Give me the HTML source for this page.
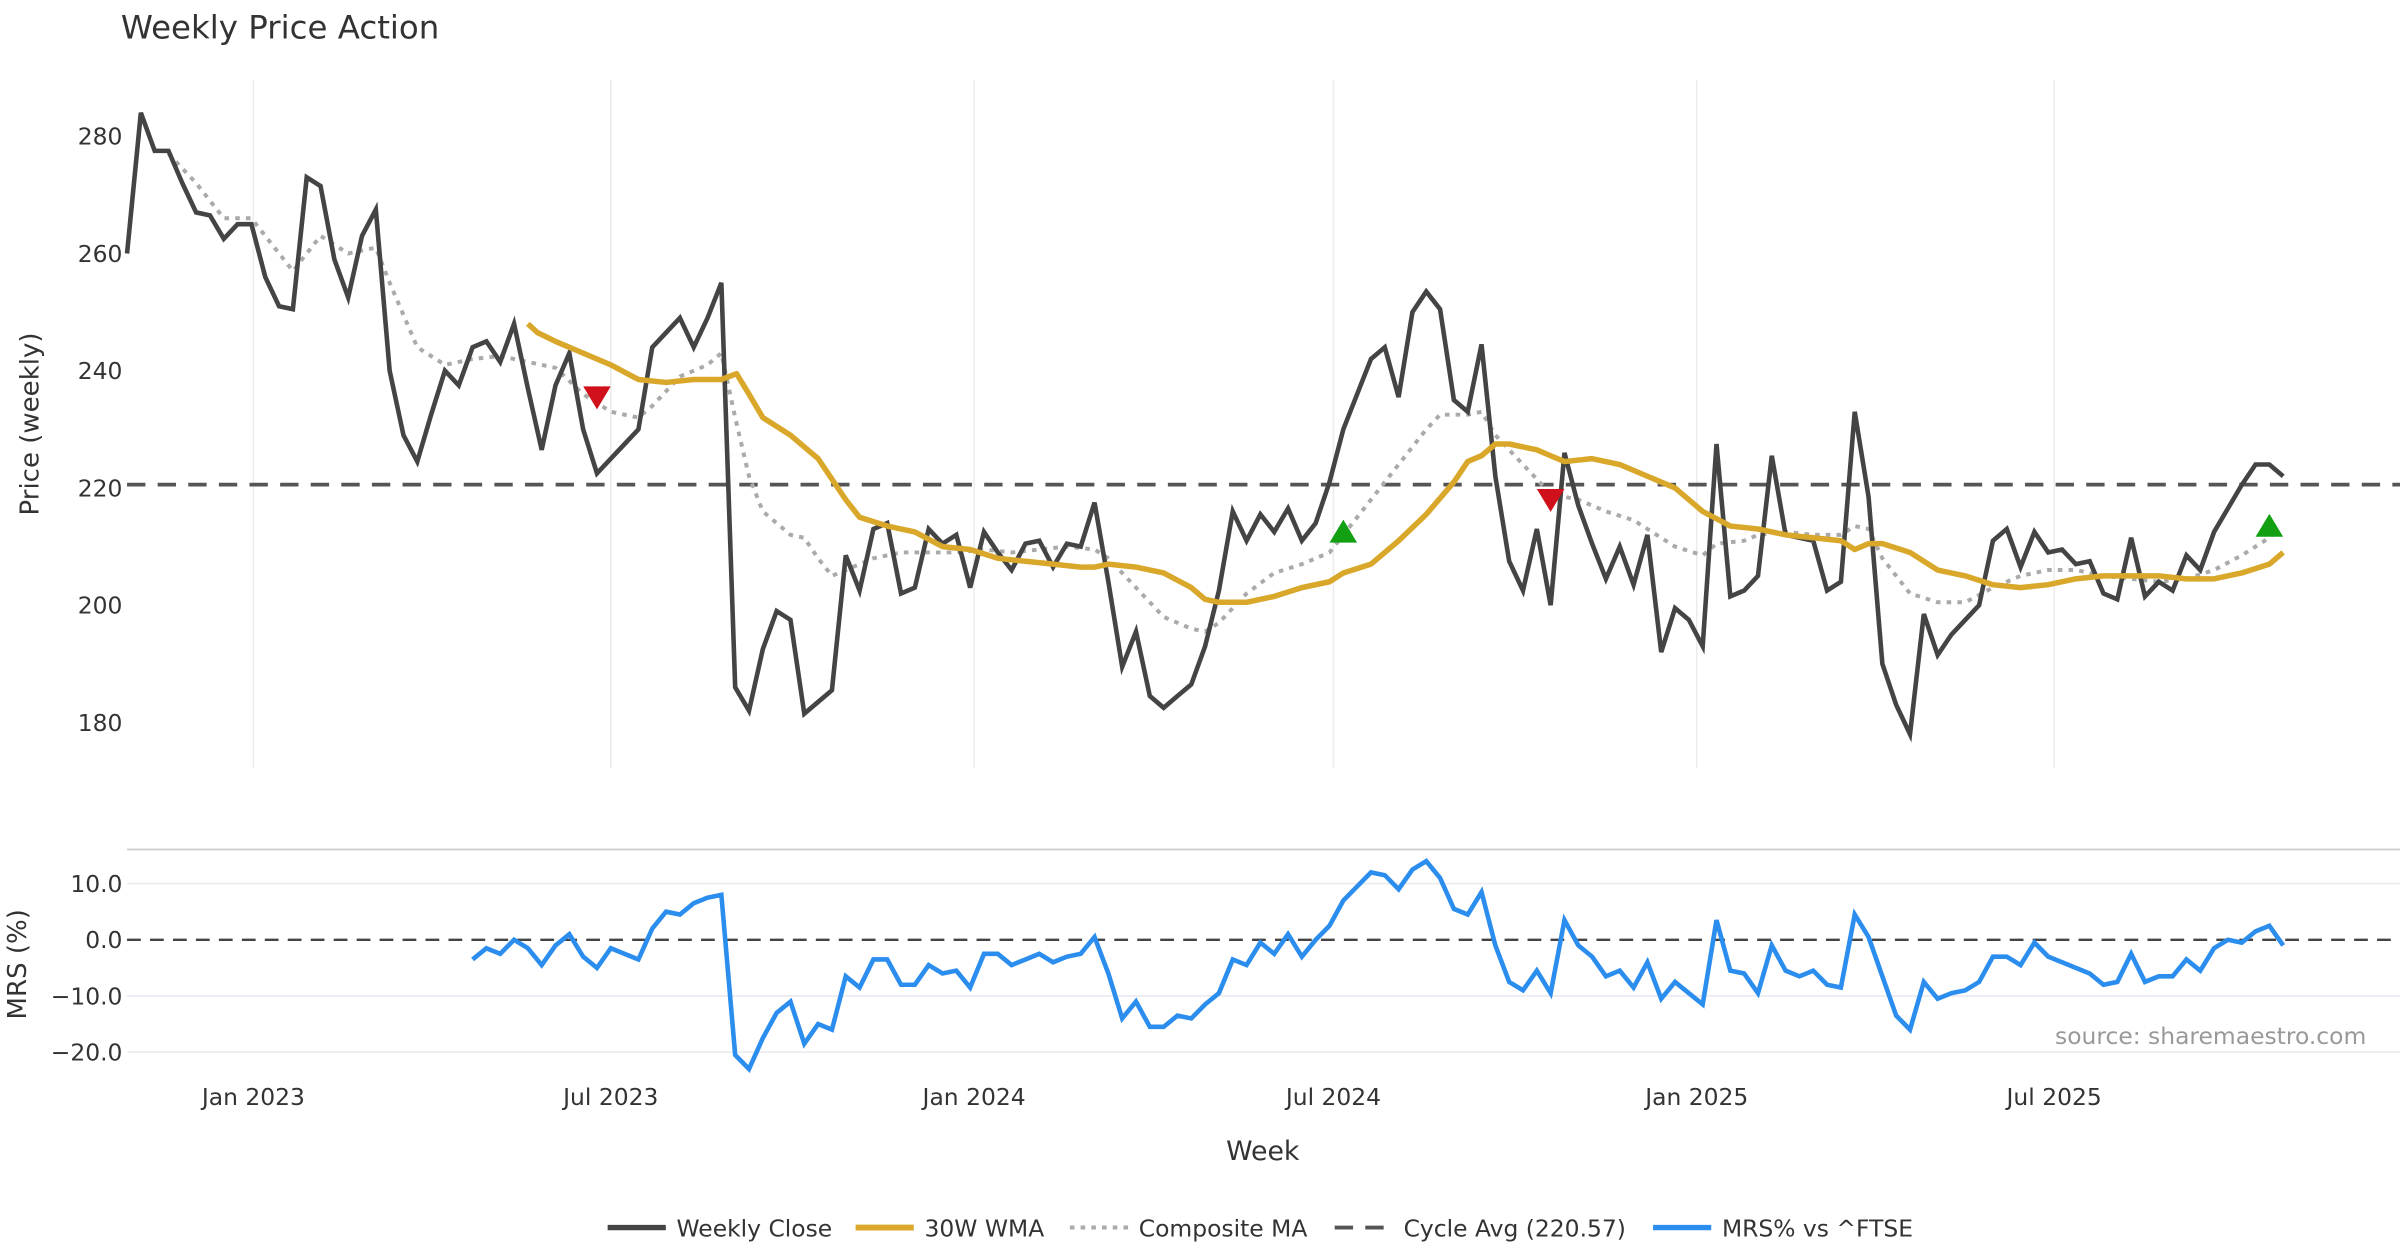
<!DOCTYPE html>
<html><head><meta charset="utf-8"><style>
html,body{margin:0;padding:0;background:#fff;}
svg{display:block;font-family:"DejaVu Sans","Liberation Sans",sans-serif;}
</style></head><body>
<svg id="chart" width="2400" height="1260" viewBox="0 0 1568 823.2" xmlns="http://www.w3.org/2000/svg">
<text x="79" y="25" font-size="21.2" fill="#333">Weekly Price Action</text>
<g id="grid"></g>
<g id="series"></g>
<g id="axes"></g>
<text x="0" y="0" transform="translate(25,277) rotate(-90)" font-size="17" fill="#333" text-anchor="middle">Price (weekly)</text>
<text x="0" y="0" transform="translate(17,630) rotate(-90)" font-size="17" fill="#333" text-anchor="middle">MRS (%)</text>
<text x="825" y="758" font-size="17.5" fill="#333" text-anchor="middle">Week</text>
<text x="1546" y="682" font-size="15.3" fill="#999" text-anchor="end">source: sharemaestro.com</text>
<g id="legend"></g>
</svg>
<script>
// ---- data ----
const closeValues = [260,284,277.5,277.5,272,267,266.5,262.5,265,265,256,251,250.5,273,271.5,259,252.5,263,267.5,240,229,224.5,232.5,240,237.5,244,245,241.5,248,237,226.5,237.5,243,230,222.5,225,227.5,230,244,246.5,249,244,249,255,186,182,192.5,199,197.5,181.5,183.5,185.5,208.5,202.5,213,214,202,203,213,210.5,212,203,212.5,209,206,210.5,211,206.5,210.5,210,217.5,204,189.5,195.5,184.5,182.5,184.5,186.5,193,202.5,216,211,215.5,212.5,216.5,211,214,221,230,236,242,244,235.5,250,253.5,250.5,235,233,244.5,222,207.5,202.5,213,200,226,217,210.5,204.5,210,203.5,212,192,199.5,197.5,193,227.5,201.5,202.5,205,225.5,212,211.5,211,202.5,204,233,218.5,190,183,178,198.5,191.5,195,197.5,200,211,213,206.5,212.5,209,209.5,207,207.5,202,201,211.5,201.5,204,202.5,208.5,206,212.5,216.5,220.5,224,224,222];
const wmaWeeks = [29,29.7,31,33,35,37,39,41,43,44.1,45,46,48,50,52,53,55,57,59,61,63,65,67,69,70,71,73,75,77,78,79,81,83,85,87,88,90,92,94,96,97,98,99,100,102,103,104,106,108,110,112,114,116,118,120,122,124,125,126,127,129,131,133,135,137,139,141,143,145,147,149,151,153,155,156];
const wmaValues = [248,246.5,245,243,241,238.5,238,238.5,238.5,239.5,236,232,229,225,218,215,213.5,212.5,210,209.5,208,207.5,207,206.5,206.5,207,206.5,205.5,203,201,200.5,200.5,201.5,203,204,205.5,207,211,215.5,221,224.5,225.5,227.5,227.5,226.5,225.5,224.5,225,224,222,220,216,213.5,213,212,211.5,211,209.5,210.5,210.5,209,206,205,203.5,203,203.5,204.5,205,205,205,204.5,204.5,205.5,207,209,210.5];
const compWeeks = [3,5,7,9,10,12,14,16,18,19,21,23,25,27,29,31,33,35,37,38,40,42,43,44,45,46,48,49,50,51,52,54,56,58,60,62,64,66,68,70,71,73,75,77,78,79,81,83,85,87,88,90,92,94,95,97,98,99,101,103,105,107,109,110,112,114,115,117,118,120,122,124,125,126,127,129,131,133,135,137,139,141,143,145,147,149,151,153,155,155.5];
const compValues = [277,272,266,266,263,257,263,260,261,255,244,241,242,242.5,241.5,240.5,236,233,232,234,239,241,243,232,222,216,212,211.5,208,205,206,208,209,209,209,209.5,209,209.5,210,209.5,208,203,198,196,195.5,197,202,205.5,207,209,212,218,224,230,232.5,232.5,233,229,224,219,218,216,214.5,213,210,208.5,210.5,211,212,212.5,212,212,213.5,213,208,202,200.5,200.5,203,205,206,206,205,204.5,204,204.5,206,208.5,211.5,213];
const cycleAvg = 220.57;
const mrsStart = 25;
const mrsValues = [-3.5,-1.5,-2.5,0,-1.5,-4.5,-1,1,-3,-5,-1.5,-2.5,-3.5,2,5,4.5,6.5,7.5,8,-20.5,-23,-17.5,-13,-11,-18.5,-15,-16,-6.5,-8.5,-3.5,-3.5,-8,-8,-4.5,-6,-5.5,-8.5,-2.5,-2.5,-4.5,-3.5,-2.5,-4,-3,-2.5,0.5,-6,-14,-11,-15.5,-15.5,-13.5,-14,-11.5,-9.5,-3.5,-4.5,-0.5,-2.5,1,-3,0,2.5,7,9.5,12,11.5,9,12.5,14,11,5.5,4.5,8.5,-1,-7.5,-9,-5.5,-9.5,3.5,-1,-3,-6.5,-5.5,-8.5,-4,-10.5,-7.5,-9.5,-11.5,3.5,-5.5,-6,-9.5,-1,-5.5,-6.5,-5.5,-8,-8.5,4.5,0.5,-6.5,-13.5,-16,-7.5,-10.5,-9.5,-9,-7.5,-3,-3,-4.5,-0.5,-3,-4,-5,-6,-8,-7.5,-2.5,-7.5,-6.5,-6.5,-3.5,-5.5,-1.5,0,-0.5,1.5,2.5,-1];
const sellWeeks = [34,103];
const sellValues = [235.5,218];
const buyWeeks = [88,155];
const buyValues = [212.5,213.5];
const priceTicks = [180,200,220,240,260,280];
const mrsTicks = [-20,-10,0,10];
const mrsTickLabels = ["\u221220.0","\u221210.0","0.0","10.0"];
const dateTicks = ["2023-01-01","2023-07-01","2024-01-01","2024-07-01","2025-01-01","2025-07-01"];
const dateTickLabels = ["Jan 2023","Jul 2023","Jan 2024","Jul 2024","Jan 2025","Jul 2025"];
const startDate = "2022-10-29";

// ---- axes ----
const NS="http://www.w3.org/2000/svg";
const X0=83, STEP=9.03, XR=1568;
const xw = w => X0 + w*STEP;
const xd = d => X0 + (new Date(d) - new Date(startDate))/86400000/7*STEP;
const yp = v => 89 + (280 - v)*(383/100);
const ym = v => 614 - v*3.67;
function mk(tag, attrs, parent){const e=document.createElementNS(NS,tag);for(const k in attrs)e.setAttribute(k,attrs[k]);parent.appendChild(e);return e;}
const grid=document.getElementById('grid'), series=document.getElementById('series'), axes=document.getElementById('axes'), legend=document.getElementById('legend');

dateTicks.forEach((d,i)=>{
  const x=xd(d);
  const g=mk('line',{x1:x,x2:x,y1:52,y2:502,stroke:'#ececec','stroke-width':1},grid);
  
  
  const t=mk('text',{x:x,y:722,'font-size':15.3,fill:'#333','text-anchor':'middle'},axes);
  t.textContent=dateTickLabels[i];
  
  
});
priceTicks.forEach(v=>{
  const t=mk('text',{x:80,y:yp(v)+5.5,'font-size':15.3,fill:'#333','text-anchor':'end'},axes);
  t.textContent=v;
  
  
});
const sep=mk('line',{x1:X0,x2:XR,y1:555,y2:555,stroke:'#ccc','stroke-width':1.2},grid);


mrsTicks.forEach((v,i)=>{
  if(v!==0){
    const g=mk('line',{x1:X0,x2:XR,y1:ym(v),y2:ym(v),stroke:'#ececf2','stroke-width':1.2},grid);
    
    
  }
  const t=mk('text',{x:80,y:ym(v)+5.5,'font-size':15.3,fill:'#333','text-anchor':'end'},axes);
  t.textContent=mrsTickLabels[i];
  
  
});

// ---- series ----
function path(ws,vs,yf){return ws.map((w,i)=>(i?'L':'M')+xw(w).toFixed(2)+','+yf(vs[i]).toFixed(2)).join(' ');}
const cyc=mk('line',{x1:X0,x2:XR,y1:yp(cycleAvg),y2:yp(cycleAvg),stroke:'#555','stroke-width':2.5,'stroke-dasharray':'12,8'},series);


const zl=mk('line',{x1:X0,x2:XR,y1:ym(0),y2:ym(0),stroke:'#444','stroke-width':1.6,'stroke-dasharray':'9,6'},series);


const comp=mk('path',{d:path(compWeeks,compValues,yp),fill:'none',stroke:'#aaa','stroke-width':2.6,'stroke-dasharray':'3,4'},series);


const cw=closeValues.map((v,i)=>i);
const cl=mk('path',{d:path(cw,closeValues,yp),fill:'none',stroke:'#444','stroke-width':3,'stroke-linejoin':'miter'},series);


const wma=mk('path',{d:path(wmaWeeks,wmaValues,yp),fill:'none',stroke:'#d9a82a','stroke-width':3.6,'stroke-linejoin':'round'},series);


const mw=mrsValues.map((v,i)=>mrsStart+i);
const mrs=mk('path',{d:path(mw,mrsValues,ym),fill:'none',stroke:'#2b8ded','stroke-width':3},series);


sellWeeks.forEach((w,i)=>{
  const x=xw(w), y=yp(sellValues[i]);
  const p=mk('polygon',{points:`${x-9},${y-7} ${x+9},${y-7} ${x},${y+8}`,fill:'#d0101a'},series);
  
  
});
buyWeeks.forEach((w,i)=>{
  const x=xw(w), y=yp(buyValues[i]);
  const p=mk('polygon',{points:`${x-9},${y+7} ${x+9},${y+7} ${x},${y-8}`,fill:'#12a012'},series);
  
  
});

// ---- legend ----
const items=[
 {x:397,label:'Weekly Close',stroke:'#444',dash:'',w:3.5,name:'legend-weekly-close'},
 {x:559,label:'30W WMA',stroke:'#d9a82a',dash:'',w:3.8,name:'legend-wma'},
 {x:699,label:'Composite MA',stroke:'#aaa',dash:'3,4',w:2.6,name:'legend-composite-ma'},
 {x:872,label:'Cycle Avg (220.57)',stroke:'#555',dash:'12,8',w:2.5,name:'legend-cycle-avg'},
 {x:1080,label:'MRS% vs ^FTSE',stroke:'#2b8ded',dash:'',w:3.5,name:'legend-mrs'}];
items.forEach(it=>{
  const g=mk('g',{},legend);
  
  
  const l=mk('line',{x1:it.x,x2:it.x+38,y1:802,y2:802,stroke:it.stroke,'stroke-width':it.w,'stroke-dasharray':it.dash},g);
  
  
  const t=mk('text',{x:it.x+45,y:808,'font-size':15.3,fill:'#333'},g);
  t.textContent=it.label;
  
  
});
</script>
</body></html>
